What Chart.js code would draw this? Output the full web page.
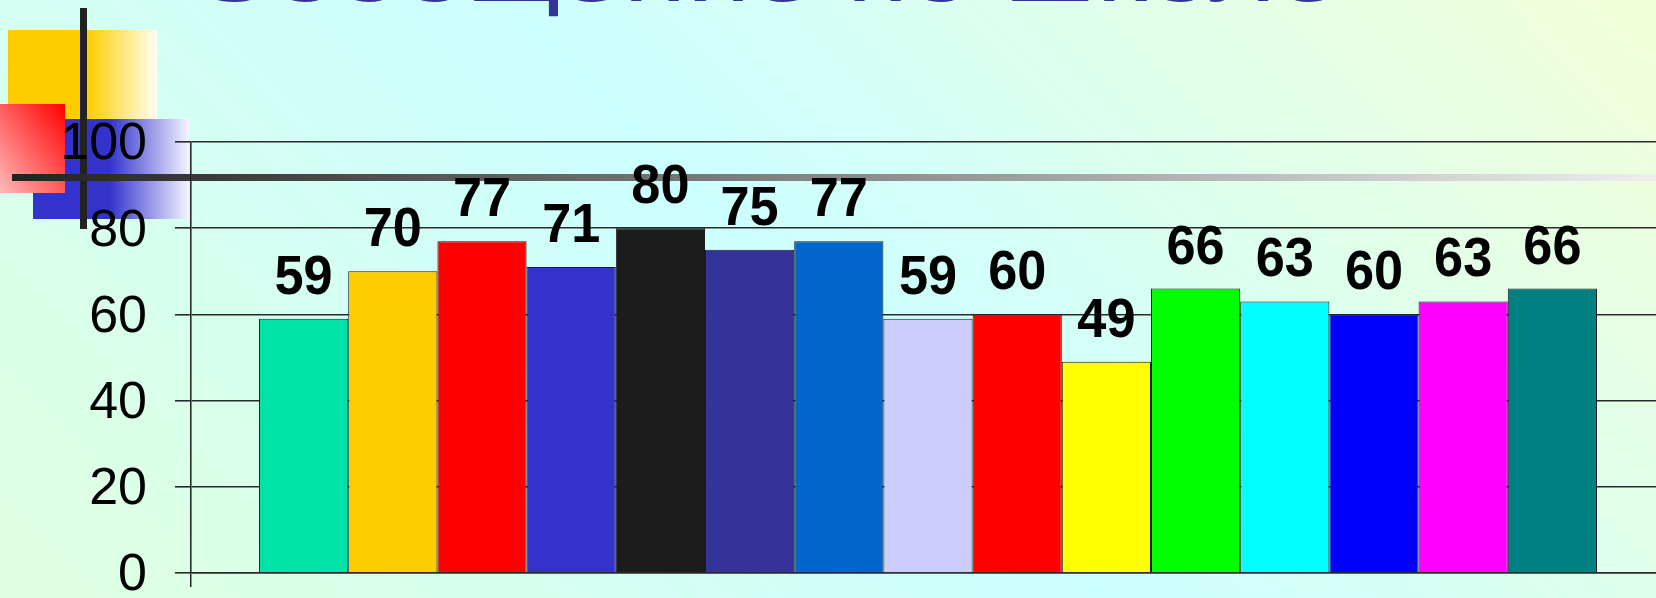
<!DOCTYPE html>
<html lang="ru">
<head>
  <meta charset="UTF-8">
  <title>Сообщение по школе</title>
  <script src="https://cdn.jsdelivr.net/npm/chart.js@4.4.0/dist/chart.umd.min.js"></script>
  <style>
    html, body { margin: 0; padding: 0; }
    body {
      width: 1656px;
      height: 598px;
      overflow: hidden;
      position: relative;
      background: linear-gradient(45deg, #E0FFE0 0%, #CCFFFF 49%, #F2FFD8 100%);
      font-family: 'Liberation Sans', Arial, sans-serif;
    }
    .deco { position: absolute; }
    #sqYellow {
      left: 8px; top: 30px; width: 149px; height: 89px;
      background: linear-gradient(to right, #FFCC00 0%, #FFCC00 53%, #FFFFF2 100%);
    }
    #sqBlue {
      left: 33px; top: 119px; width: 156px; height: 100px;
      background: linear-gradient(to right, #3333CC 0%, #3333CC 49%, #F4F4FF 100%);
    }
    #sqRed {
      left: 0; top: 104px; width: 65px; height: 89px;
      background: linear-gradient(to bottom left, #FF0000 0%, #FFBABA 100%);
    }
    #lineV { left: 80px; top: 8px; width: 7px; height: 221px; background: #222; }
    #lineH {
      left: 12px; top: 174px; width: 1644px; height: 7px;
      background: linear-gradient(to right, #222 0%, #EEEEEE 100%);
    }
    .wrap { position: absolute; left: 0; top: 0; width: 1700px; height: 598px; }
  </style>
</head>
<body>
  <div class="deco" id="sqYellow"></div>
  <div class="deco" id="sqBlue"></div>
  <div class="deco" id="sqRed"></div>
  <div class="deco" id="lineV"></div>
  <div class="deco" id="lineH"></div>

  <div class="wrap"><canvas id="barChart" width="1700" height="598"></canvas></div>

  <script>
    const titleText = 'Сообщение по школе';
    const categories = [''];
    const barValues = [59, 70, 77, 71, 80, 75, 77, 59, 60, 49, 66, 63, 60, 63, 66];
    const barColors = ['#00E2A6', '#FFCC00', '#FF0000', '#3333CC', '#1C1C1C', '#333399', '#0066CC', '#CCCCFF',
                       '#FF0000', '#FFFF00', '#00FF00', '#00FFFF', '#0000FF', '#FF00FF', '#008080'];
    const yTicks = [0, 20, 40, 60, 80, 100];

    const gridColor = '#2a2a2a';

    // title of the slide, only its lower edge shows at the top
    const slideTitle = {
      id: 'slideTitle',
      beforeDraw(chart) {
        const ctx = chart.ctx;
        ctx.save();
        ctx.font = '76px "Liberation Sans", Arial, sans-serif';
        ctx.fillStyle = '#333399';
        ctx.textBaseline = 'alphabetic';
        const w = ctx.measureText(titleText).width;
        ctx.translate(190, 1);
        ctx.scale(1150 / w, 1);
        ctx.fillText(titleText, 0, 0);
        ctx.restore();
      }
    };

    // numbers above the bars
    const valueLabels = {
      id: 'valueLabels',
      afterDatasetsDraw(chart) {
        const ctx = chart.ctx;
        ctx.save();
        ctx.font = 'bold 55px "Liberation Sans", Arial, sans-serif';
        ctx.fillStyle = '#000';
        ctx.textAlign = 'center';
        ctx.textBaseline = 'alphabetic';
        chart.data.datasets.forEach((ds, i) => {
          const bar = chart.getDatasetMeta(i).data[0];
          ctx.save();
          ctx.translate(bar.x, bar.y - 25);
          ctx.scale(0.95, 1);
          ctx.fillText(String(ds.data[0]), 0, 0);
          ctx.restore();
        });
        ctx.restore();
      }
    };

    const datasets = barValues.map((v, i) => ({
      label: String(i + 1),
      data: [v],
      backgroundColor: barColors[i],
      borderColor: '#1a1a1a',
      borderWidth: 1,
      categoryPercentage: 0.9077,
      barPercentage: 1
    }));

    new Chart(document.getElementById('barChart'), {
      type: 'bar',
      data: { labels: categories, datasets },
      options: {
        responsive: false,
        animation: false,
        devicePixelRatio: 1,
        layout: { padding: { top: 142, right: 35, bottom: 11, left: 0 } },
        plugins: { legend: { display: false }, tooltip: { enabled: false } },
        scales: {
          x: {
            afterFit: s => { s.height = 14; },
            ticks: { display: false },
            grid: { display: true, drawOnChartArea: false, drawTicks: true, tickLength: 14, color: gridColor, lineWidth: 1.5 },
            border: { display: true, color: gridColor, width: 1.5 }
          },
          y: {
            min: 0,
            max: 100,
            afterBuildTicks: s => { s.ticks = yTicks.map(v => ({ value: v })); },
            afterFit: s => { s.width = 191; s.paddingTop = 0; s.paddingBottom = 0; },
            ticks: {
              color: '#000',
              padding: 28,
              labelOffset: 3,
              font: { family: '"Liberation Sans", Arial, sans-serif', size: 52 }
            },
            grid: { color: gridColor, lineWidth: 1.6, tickLength: 16 },
            border: { display: true, color: gridColor, width: 1.6 }
          }
        }
      },
      plugins: [slideTitle, valueLabels]
    });
  </script>
</body>
</html>
